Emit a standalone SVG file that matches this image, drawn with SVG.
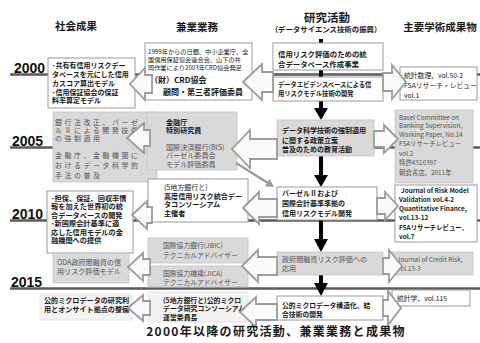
<svg xmlns="http://www.w3.org/2000/svg" width="480" height="343" viewBox="0 0 480 343">
<style>
text{font-family:"Noto Sans CJK JP","Liberation Sans",sans-serif;fill:#1a1a1a}
.h{font-size:10.5px;font-weight:700}
.yr{font-family:"Liberation Sans",sans-serif;font-size:14px;font-weight:700;fill:#111}
.b{font-weight:700}
.g{fill:#555}
.wb{fill:#fff;stroke:#9a9a9a;stroke-width:1}
.gb{fill:#d9d9d9;stroke:#c4c4c4;stroke-width:0.8}
.lb{fill:#f3f3f3;stroke:#e2e2e2;stroke-width:0.8}
.yl{stroke:#5a5a5a;stroke-width:2.5}
.arr{fill:#fafafa;stroke:#9c9c9c;stroke-width:1.8;stroke-linejoin:miter}
.blk{fill:#000}
</style>

<g id="headers">
<text class="h" x="76" y="30" text-anchor="middle">社会成果</text>
<text class="h" x="197" y="31" text-anchor="middle">兼業業務</text>
<text class="h" x="327" y="22" text-anchor="middle" style="font-size:11.5px">研究活動</text>
<text class="b" x="326" y="32" text-anchor="middle" style="font-size:7.4px">（データサイエンス技術の振興）</text>
<text class="h" x="440" y="31" text-anchor="middle">主要学術成果物</text>
</g>

<g id="timeline">
<line class="yl" x1="10" y1="74.5" x2="480" y2="74.5"/>
<line class="yl" x1="10" y1="147.5" x2="480" y2="147.5"/>
<line class="yl" x1="10" y1="220.5" x2="480" y2="220.5"/>
<line class="yl" x1="10" y1="288.5" x2="480" y2="288.5"/>
<text class="yr" x="14" y="73">2000</text>
<text class="yr" x="12" y="146">2005</text>
<text class="yr" x="12" y="219">2010</text>
<text class="yr" x="11" y="287">2015</text>
</g>

<g id="connectors">
<rect class="blk" x="319" y="39" width="4" height="5"/>
<rect class="blk" x="319" y="69" width="4" height="9"/>
<rect class="blk" x="319" y="100" width="4" height="11"/>
<rect class="blk" x="319" y="155" width="4" height="23"/>
<rect class="blk" x="319" y="219" width="4" height="21"/>
<rect class="blk" x="319" y="274" width="4" height="10"/>
<polygon class="blk" points="314,108 328,108 321,120"/>
<polygon class="blk" points="314,175 328,175 321,187"/>
<polygon class="blk" points="314,239 328,239 321,252"/>
<polygon class="blk" points="314,283 328,283 321,296"/>
</g>

<g id="social">
<g id="s2000"><rect class="wb" x="48" y="58" width="87" height="50"/>
<text class="b" font-size="7" x="52"><tspan x="52" y="67.5">･共有有信用リスクデー</tspan><tspan x="52" y="76.5">タベースを元にした信用</tspan><tspan x="52" y="85.5">カスコア算出モデル</tspan><tspan x="52" y="94.5">･信用保証協会の保証</tspan><tspan x="52" y="103">料率算定モデル</tspan></text></g>
<g id="s2005"><rect class="gb" x="53" y="112" width="104" height="70"/>
<text class="g" font-size="6.9" letter-spacing="2.6" x="55"><tspan x="55" y="124.5">銀行法改正、バーゼ</tspan><tspan x="55" y="132.8">ルⅡによる開発技術</tspan><tspan x="55" y="141">の強制適用</tspan><tspan x="55" y="158">金融庁、金融機関に</tspan><tspan x="55" y="168">おけるデータ科学的</tspan><tspan x="55" y="178">手法の普及</tspan></text></g>
<g id="s2010"><rect class="wb" x="47" y="191" width="86" height="62"/>
<text class="b" font-size="7.2" x="51"><tspan x="51" y="200.5">･担保、保証、回収率情</tspan><tspan x="51" y="209.3">報を加えた世界初の統</tspan><tspan x="51" y="217.7">合データベースの開発</tspan><tspan x="51" y="225.8">･新国際会計基準に適</tspan><tspan x="51" y="234.5">応した信用モデルの金</tspan><tspan x="51" y="243">融機関への提供</tspan></text></g>
<g id="sODA"><rect class="gb" x="53" y="253" width="76" height="30"/>
<text class="g" font-size="7.1" x="57"><tspan x="57" y="264.5">ODA政府間融資の信</tspan><tspan x="57" y="273.5">用リスク評価モデル</tspan></text></g>
<g id="sMicro"><rect class="lb" x="40" y="294" width="92" height="26"/>
<text class="b" font-size="7.1" x="44"><tspan x="44" y="302.5">公的ミクロデータの研究利</tspan><tspan x="44" y="311.5">用とオンサイト拠点の整備</tspan></text></g>
</g>

<g id="sidework">
<g id="mCRD"><rect class="wb" x="145" y="43" width="107" height="57"/>
<text font-size="6.2" x="148"><tspan x="148" y="54">1999年からの日銀、中小企業庁、全</tspan><tspan x="148" y="62">国信用保証協会連合会、山下の共</tspan><tspan x="148" y="70">同作業により2003年CRD協会発足</tspan></text>
<text class="b" font-size="8" x="150" y="83">（財）CRD協会</text>
<text class="b" font-size="8" x="163" y="95">顧問・第三者評価委員</text></g>
<g id="mFSA"><rect class="gb" x="147" y="112" width="90" height="58"/>
<text class="b" font-size="7.1" x="166"><tspan x="166" y="124.5">金融庁</tspan><tspan x="166" y="133">特別研究員</tspan></text>
<text class="g" font-size="7.1" x="166"><tspan x="166" y="149.5">国際決済銀行(BIS)</tspan><tspan x="166" y="158">バーゼル委員会</tspan><tspan x="166" y="166.5">モデル評価委員</tspan></text></g>
<g id="mCons"><rect class="wb" x="148" y="179" width="100" height="43"/>
<text font-size="7" x="164" y="189.5">(5地方銀行と)</text>
<text class="b" font-size="7.1" x="164"><tspan x="164" y="198.5">高度信用リスク統合デー</tspan><tspan x="164" y="207">タコンソーシアム</tspan><tspan x="164" y="215.5">主催者</tspan></text></g>
<g id="mJBIC"><rect class="gb" x="148" y="238" width="100" height="25"/>
<text class="g" font-size="6.8" x="163"><tspan x="163" y="247.5">国際協力銀行(JBIC)</tspan><tspan x="163" y="257.5">テクニカルアドバイザー</tspan></text></g>
<g id="mJICA"><rect class="gb" x="148" y="266" width="100" height="21"/>
<text class="g" font-size="6.8" x="163"><tspan x="163" y="275.5">国際協力機構(JICA)</tspan><tspan x="163" y="284.5">テクニカルアドバイザー</tspan></text></g>
<g id="mMicro"><rect class="lb" x="148" y="292" width="100" height="30"/>
<text class="b" font-size="6.9" x="163"><tspan x="163" y="302.5">(5地方銀行と)公的ミクロ</tspan><tspan x="163" y="310.8">データ研究コンソーシアム</tspan><tspan x="163" y="319.5">運営委員長</tspan></text></g>
</g>

<g id="research">
<g id="r1"><rect class="wb" x="273" y="43" width="110" height="27"/>
<text class="b" font-size="7.4" x="278"><tspan x="278" y="57">信用リスク評価のための統</tspan><tspan x="278" y="66.5">合データベース作成事業</tspan></text></g>
<g id="r2"><rect class="wb" x="273" y="77" width="110" height="24"/>
<text class="b" font-size="6.3" x="278"><tspan x="278" y="86.5">データエビデンスベースによる信</tspan><tspan x="278" y="96">用リスクモデル技術の開発</tspan></text></g>
<g id="r3"><rect class="gb" x="277" y="120" width="97" height="36"/>
<text class="b" font-size="7" x="282"><tspan x="282" y="133">データ科学技術の強制適用</tspan><tspan x="282" y="142.5">に関する政策立案</tspan><tspan x="282" y="152">普及のための教育活動</tspan></text></g>
<g id="r4"><rect class="wb" x="277" y="187" width="100" height="33"/>
<text class="b" font-size="7" x="282"><tspan x="282" y="195.5">バーゼルⅡおよび</tspan><tspan x="282" y="205.5">国際会計基準準拠の</tspan><tspan x="282" y="215.5">信用リスクモデル開発</tspan></text></g>
<g id="r5"><rect class="gb" x="277" y="252" width="106" height="23"/>
<text class="g" font-size="7.1" x="282"><tspan x="282" y="262">政府間融資リスク評価への</tspan><tspan x="282" y="270.5">応用</tspan></text></g>
<g id="r6"><rect class="wb" x="277" y="296" width="106" height="24"/>
<text class="b" font-size="6.8" x="282"><tspan x="282" y="307.5">公的ミクロデータ構造化、結</tspan><tspan x="282" y="316.5">合技術の開発</tspan></text></g>
</g>

<g id="outputs">
<g id="p1"><rect class="wb" x="400" y="67" width="77" height="33"/>
<text font-size="6.8" fill="#333" x="404"><tspan x="404" y="77.5">統計数理、vol.50-2</tspan><tspan x="404" y="87.5">FSAリサーチ・レビュー</tspan><tspan x="404" y="97.5">vol.1</tspan></text></g>
<g id="p2"><rect class="gb" x="395" y="110" width="78" height="73"/>
<text class="g" font-size="6.4" x="399"><tspan x="399" y="119.5">Basel Committee on</tspan><tspan x="399" y="128">Banking Supervision,</tspan><tspan x="399" y="137">Working Paper, No.14</tspan><tspan x="399" y="146">FSAリサーチレビュー</tspan><tspan x="399" y="155.5">vol.2</tspan><tspan x="399" y="164.5">特許4310397</tspan><tspan x="399" y="174.5">朝倉書店、2011年</tspan></text></g>
<g id="p3"><rect class="wb" x="395" y="185" width="82" height="57"/>
<text class="b" font-size="6.4" x="399"><tspan x="401" y="192.5">Journal of Risk Model</tspan><tspan x="399" y="201.5">Validation vol.4-2</tspan><tspan x="399" y="210.5">Quantitative Finance,</tspan><tspan x="399" y="220">vol.13-12</tspan><tspan x="399" y="229.5">FSAリサーチレビュー、</tspan><tspan x="399" y="238.5">vol.7</tspan></text></g>
<g id="p4"><rect class="gb" x="392" y="252" width="81" height="23"/>
<text class="g" font-size="6.4" x="397"><tspan x="397" y="261.5">Journal of Credit Risk,</tspan><tspan x="397" y="270.5">vol.13-3</tspan></text></g>
<g id="p5"><rect class="wb" x="392" y="290" width="78" height="16"/>
<text font-size="6.8" fill="#333" x="397" y="300.5">統計学、vol.115</text></g>
</g>

<g id="arrows">
<line x1="236" y1="163" x2="268" y2="183" stroke="#9c9c9c" stroke-width="2.5"/>
<polygon points="274,187 264.9,186.4 269.7,178.8" fill="#9c9c9c"/>
<polygon class="arr" points="243,82 262,64 262,72 273,72 273,92 262,92 262,100"/>
<polygon class="arr" points="130,84 145,68 145,75 152,75 152,93 145,93 145,100"/>
<polygon class="arr" points="127,138 144,123 144,130 150,130 150,146 144,146 144,153"/>
<polygon class="arr" points="232,149 250,130 250,139 277,139 277,159 250,159 250,168"/>
<polygon class="arr" points="132,215 147,201 147,207 152,207 152,223 147,223 147,229"/>
<polygon class="arr" points="243,208 259,192 259,199 277,199 277,217 259,217 259,224"/>
<polygon class="arr" points="128,267 143,253 143,259 150,259 150,275 143,275 143,281"/>
<polygon class="arr" points="242,266 258,250 258,257 277,257 277,275 258,275 258,282"/>
<polygon class="arr" points="128,308 143,295 143,301 150,301 150,315 143,315 143,321"/>
<polygon class="arr" points="240,312 256,297 256,304 277,304 277,320 256,320 256,327"/>
<polygon class="arr" points="406,82 392,65 392,73 383,73 383,91 392,91 392,99"/>
<polygon class="arr" points="398,139 384,125 384,131 374,131 374,147 384,147 384,153"/>
<polygon class="arr" points="398,206 385,192 385,198 377,198 377,214 385,214 385,220"/>
<polygon class="arr" points="402,266 389,250 389,258 383,258 383,274 389,274 389,282"/>
<polygon class="arr" points="401,308 388,291 388,300 383,300 383,316 388,316 388,325"/>
</g>

<text class="b" x="276" y="336" text-anchor="middle" font-size="12" letter-spacing="1.3">2000年以降の研究活動、兼業業務と成果物</text>
</svg>
